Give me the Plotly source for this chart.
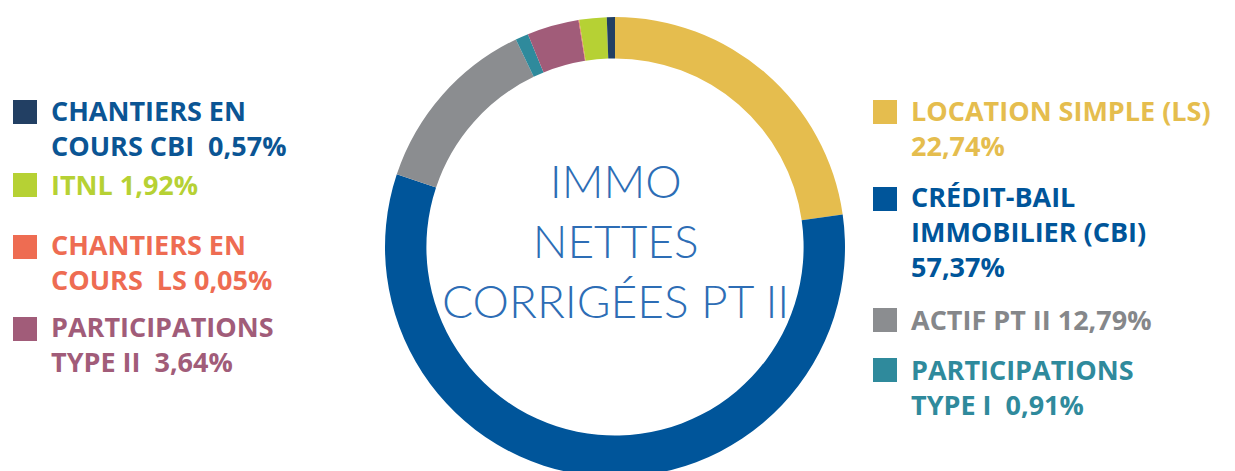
import plotly.graph_objects as go

# ---- data ----
labels = ["LOCATION SIMPLE (LS)", "CRÉDIT-BAIL IMMOBILIER (CBI)", "ACTIF PT II",
          "PARTICIPATIONS TYPE I", "PARTICIPATIONS TYPE II", "CHANTIERS EN COURS LS",
          "ITNL", "CHANTIERS EN COURS CBI"]
values = [22.74, 57.37, 12.79, 0.91, 3.64, 0.05, 1.92, 0.57]
slice_colors = ["#E5BD4E", "#00559A", "#8B8D90", "#2F8A9C", "#A15C79", "#EE6C52", "#B6D134", "#223F63"]

legend_lines = {
    "LOCATION SIMPLE (LS)": ["LOCATION SIMPLE (LS)", "22,74%"],
    "CRÉDIT-BAIL IMMOBILIER (CBI)": ["CRÉDIT-BAIL", "IMMOBILIER (CBI)", "57,37%"],
    "ACTIF PT II": ["ACTIF PT II 12,79%"],
    "PARTICIPATIONS TYPE I": ["PARTICIPATIONS", "TYPE I\u00a0 0,91%"],
    "PARTICIPATIONS TYPE II": ["PARTICIPATIONS", "TYPE II\u00a0 3,64%"],
    "CHANTIERS EN COURS LS": ["CHANTIERS EN", "COURS\u00a0 LS 0,05%"],
    "ITNL": ["ITNL 1,92%"],
    "CHANTIERS EN COURS CBI": ["CHANTIERS EN", "COURS CBI\u00a0 0,57%"],
}
text_colors = {
    "LOCATION SIMPLE (LS)": "#E5BD4E",
    "CRÉDIT-BAIL IMMOBILIER (CBI)": "#00559A",
    "ACTIF PT II": "#85878A",
    "PARTICIPATIONS TYPE I": "#2F8A9C",
    "PARTICIPATIONS TYPE II": "#A15C79",
    "CHANTIERS EN COURS LS": "#EE6C52",
    "ITNL": "#B6D134",
    "CHANTIERS EN COURS CBI": "#0B5594",
}
center_title = "IMMO<br>NETTES<br>CORRIGÉES PT II"

# ---- layout (pixel positions) ----
W, H = 1235, 483
CX, CY, R = 615, 247, 230
# (label, side, square top px, text block centre px)
legend_layout = [
    ("CHANTIERS EN COURS CBI", "left", 100, 129),
    ("ITNL", "left", 173, 185),
    ("CHANTIERS EN COURS LS", "left", 235, 263),
    ("PARTICIPATIONS TYPE II", "left", 317, 345),
    ("LOCATION SIMPLE (LS)", "right", 100, 129),
    ("CRÉDIT-BAIL IMMOBILIER (CBI)", "right", 187, 233),
    ("ACTIF PT II", "right", 308, 320),
    ("PARTICIPATIONS TYPE I", "right", 358, 388),
]

def px(x):
    return x / W

def py(y):
    return 1 - y / H

fig = go.Figure(go.Pie(
    labels=labels, values=values, sort=False, direction="clockwise", rotation=0,
    hole=0.82, textinfo="none", hoverinfo="label+percent", showlegend=False,
    marker=dict(colors=slice_colors, line=dict(width=0)),
    domain=dict(x=[px(CX - R), px(CX + R)], y=[py(CY + R), py(CY - R)]),
))

FS = 27
SQ = 24
annotations = []
shapes = []
color_of = dict(zip(labels, slice_colors))
for lab, side, top, yc in legend_layout:
    sx = 13 if side == "left" else 873
    tx = 49 if side == "left" else 909
    shapes.append(dict(type="rect", xref="paper", yref="paper",
                       x0=px(sx), x1=px(sx + SQ), y0=py(top + SQ), y1=py(top),
                       fillcolor=color_of[lab], line=dict(width=0)))
    annotations.append(dict(xref="paper", yref="paper", x=px(tx), y=py(yc - 1),
                            xanchor="left", yanchor="middle", align="left", showarrow=False,
                            text="<br>".join(legend_lines[lab]),
                            font=dict(family="Open Sans", size=FS, color=text_colors[lab],
                                      weight="bold")))

annotations.append(dict(xref="paper", yref="paper", x=px(CX), y=py(240),
                        xanchor="center", yanchor="middle", align="center", showarrow=False,
                        text=center_title,
                        font=dict(family="Lato", size=46, color="#2D6DB5", weight=300)))

fig.update_layout(width=W, height=H, margin=dict(l=0, r=0, t=0, b=0),
                  paper_bgcolor="white", plot_bgcolor="white",
                  annotations=annotations, shapes=shapes)

fig.write_html("out.html",
               post_script="document.body.style.overflow='hidden';document.documentElement.style.overflow='hidden';")
